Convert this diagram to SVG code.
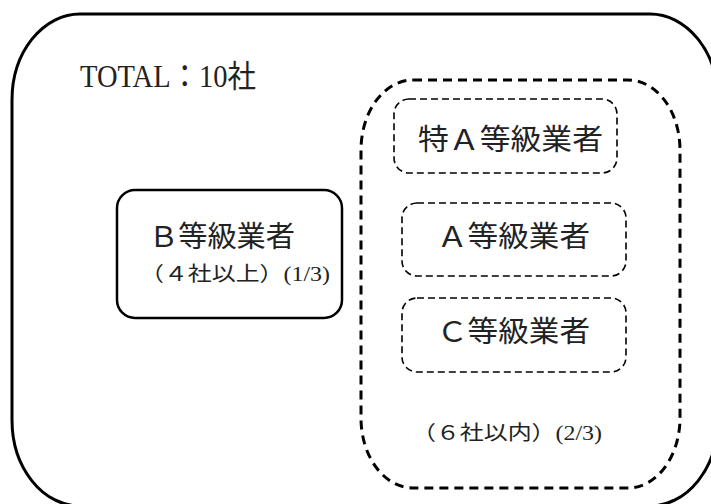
<svg xmlns="http://www.w3.org/2000/svg" width="711" height="504" viewBox="0 0 711 504">
<style>
.solid{fill:#fff;stroke:#000;stroke-width:3}
.bbox{fill:#fff;stroke:#000;stroke-width:2.5}
.group{fill:none;stroke:#000;stroke-width:3;stroke-dasharray:9 6}
.dash{fill:none;stroke:#000;stroke-width:1.6;stroke-dasharray:7 4}
text{font-family:"Liberation Serif","Noto Sans CJK JP",serif;fill:#222}
.big{font-size:29px}
.small{font-size:20px}
</style>
<rect width="711" height="504" fill="#fff"/>
<g id="total">
<rect class="solid" x="12" y="14" width="706" height="492" rx="68" ry="86"/>
<text x="80" y="87" font-size="31" textLength="176" lengthAdjust="spacingAndGlyphs">TOTAL：10社</text>
</g>
<g id="b-grade">
<rect class="bbox" x="117" y="190" width="225" height="128" rx="18" ry="18"/>
<text class="big" x="149" y="247" textLength="146" lengthAdjust="spacingAndGlyphs">Ｂ等級業者</text>
<text class="small" x="140" y="281" textLength="190" lengthAdjust="spacingAndGlyphs">（４社以上）(1/3)</text>
</g>
<g id="others">
<rect class="group" x="361" y="80" width="319" height="408" rx="52" ry="70"/>
<text class="small" x="412" y="440" textLength="190" lengthAdjust="spacingAndGlyphs">（６社以内）(2/3)</text>
</g>
<g id="special-a">
<rect class="dash" x="394" y="99" width="223" height="74" rx="15" ry="15"/>
<text class="big" x="418" y="150" textLength="185" lengthAdjust="spacingAndGlyphs">特Ａ等級業者</text>
</g>
<g id="a-grade">
<rect class="dash" x="402" y="203" width="224" height="73" rx="15" ry="15"/>
<text class="big" x="437" y="247" textLength="153" lengthAdjust="spacingAndGlyphs">Ａ等級業者</text>
</g>
<g id="c-grade">
<rect class="dash" x="402" y="298" width="224" height="74" rx="15" ry="15"/>
<text class="big" x="437" y="342" textLength="153" lengthAdjust="spacingAndGlyphs">Ｃ等級業者</text>
</g>
<g id="connectors"/>
</svg>
